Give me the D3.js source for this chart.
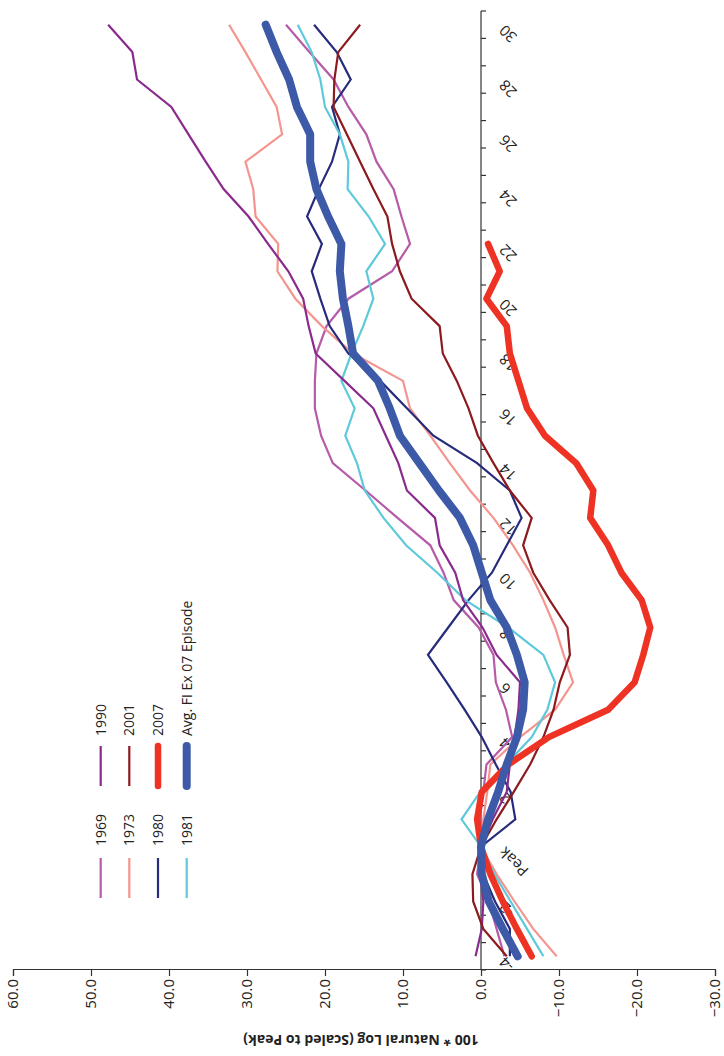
<!DOCTYPE html>
<html><head><meta charset="utf-8">
<script src="https://cdn.jsdelivr.net/npm/d3@7"></script>
<style>
body{margin:0;background:#fff}
svg{display:block}
text{font-family:"Open Sans","Noto Sans",sans-serif;fill:#222}
</style>
</head><body>
<svg id="chart" width="724" height="1056"></svg>
<script>
// ---- data ----
const months = d3.range(-4, 31);           // -4 .. 30 (0 = Peak)
const labelMonths = [-4,-2,0,2,4,6,8,10,12,14,16,18,20,22,24,26,28,30];
const valueTicks = [-30,-20,-10,0,10,20,30,40,50,60];

const s1969 = [-3.0,-2.0,-1.0,0.5,0,0.2,-0.3,-0.7,-4.0,-3.2,-1.9,-1.6,0.3,3.5,4.8,6.5,10.7,14.8,19.0,20.5,21.3,21.3,21.1,19.8,17.0,11.4,9.1,10.2,11.2,13.4,14.7,17.0,18.9,22.0,25.0];
const s1973 = [-9.7,-6.7,-4.3,-2.0,0,-0.3,-0.8,-1.2,-5.0,-9.5,-11.8,-10.6,-9.5,-8.0,-6.3,-4.1,-1.6,1.4,4.0,6.5,9.1,10.0,16.4,20.4,23.8,26.1,26.0,28.9,29.2,30.2,25.5,26.2,28.2,30.2,32.3];
const s1980 = [-3.7,-3.7,-1.8,-0.3,0,-4.4,-3.8,-1.9,-0.1,2.1,4.4,6.8,4.2,1.6,-1.4,-3.3,-5.2,-3.7,0.5,6.1,9.5,12.9,17.0,19.4,20.6,21.7,20.4,22.3,20.8,19.1,18.1,19.1,16.7,18.5,21.4];
const s1981 = [-8.0,-5.9,-3.8,-1.7,0,2.5,0.1,-3.2,-6.5,-8.5,-9.5,-8.0,-3.5,2.0,5.6,9.6,12.5,14.9,15.9,17.4,16.2,17.9,16.6,15.1,13.8,14.7,12.3,14.4,17.1,17.0,18.1,20.0,20.6,21.7,23.5];
const s1990 = [0.7,-0.1,-0.3,0.1,0,-1.5,-3.3,-3.7,-4.3,-4.8,-5.0,-2.0,-0.2,2.3,3.3,5.3,5.9,9.5,10.6,12.2,13.8,17.5,21.2,22.1,22.8,24.7,27.3,29.8,33.0,35.3,37.5,39.7,44.1,44.7,47.8];
const s2001 = [-3.3,-0.3,1.0,1.1,0,-2.0,-4.2,-6.3,-8.0,-9.3,-10.1,-11.4,-11.1,-8.8,-6.7,-5.4,-6.5,-3.7,-1.6,0.4,1.6,3.1,4.9,5.3,8.9,10.4,11.4,12.0,13.8,15.5,17.2,18.9,18.8,18.3,15.5];
const s2007 = [-6.5,-4.6,-2.8,-1.2,0,0.5,-0.1,-3.5,-8.7,-16.3,-19.7,-20.8,-21.7,-20.6,-18.0,-16.3,-14.0,-14.4,-12.2,-8.2,-5.9,-4.8,-3.7,-3.3,-0.7,-2.4,-0.9];
const sAvg  = [-4.7,-2.8,-1.0,-0.1,0,-0.9,-2.2,-3.3,-4.6,-5.4,-5.6,-4.6,-3.3,-1.2,-0.1,1.0,2.7,5.4,7.9,10.4,11.7,13.2,16.4,17.0,17.7,18.1,17.9,19.6,21.1,21.9,21.9,23.6,24.6,26.2,27.6];

const seriesNames = ["1969","1973","1980","1981","1990","2001","2007","Avg. FI Ex 07 Episode"];
const seriesData  = [s1969,s1973,s1980,s1981,s1990,s2001,s2007,sAvg];
const seriesColors = ["#b55ba7","#f5958f","#262b7b","#5ec9da","#8a2a8d","#8c1a1e","#ee3224","#3d5aa8"];
const seriesWidths = [2.2,2.2,2.2,2.2,2.2,2.2,6.5,8];

// ---- layout (drawn in an unrotated frame, then turned -90deg) ----
const W = 1056, H = 724;
const svg = d3.select("#chart");
const g = svg.append("g").attr("transform", `translate(0,${W}) rotate(-90)`);

const x = d3.scaleBand().domain(months).range([86, 1045]).padding(0);
const xc = m => x(m) + x.bandwidth() / 2;
const y = d3.scaleLinear().domain([-30, 60]).range([715, 13]);

// value axis
const ya = g.append("g").attr("transform", `translate(${x.range()[0]},0)`)
  .call(d3.axisLeft(y).tickValues(valueTicks).tickFormat(d3.format(".1f")).tickSize(6).tickSizeOuter(6).tickPadding(3));
ya.selectAll("path,line").attr("stroke", "#333").attr("stroke-width", 1.2);
ya.selectAll("text").style("font-size", "15px").attr("fill", "#222");

// category axis at value 0
const y0 = y(0);
const cat = g.append("g");
cat.append("line").attr("x1", x.range()[0]).attr("x2", x.range()[1])
  .attr("y1", y0).attr("y2", y0).attr("stroke", "#333").attr("stroke-width", 1.2);
const bounds = months.map(m => x(m)).concat([x.range()[1]]);
cat.selectAll("line.tk").data(bounds).join("line").attr("class", "tk")
  .attr("x1", d => d).attr("x2", d => d).attr("y1", y0).attr("y2", y0 + 5)
  .attr("stroke", "#333").attr("stroke-width", 1.2);
cat.selectAll("text.cl").data(labelMonths).join("text").attr("class", "cl")
  .attr("transform", d => `translate(${xc(d) - 3},${y0 + 21}) rotate(-45)`)
  .attr("text-anchor", "end").attr("dy", "0.35em").style("font-size", "15px")
  .text(d => d === 0 ? "Peak" : String(d));

// axis title
g.append("text").attr("transform", `translate(16,${(y.range()[0] + y.range()[1]) / 2 - 3}) rotate(-90)`)
  .attr("text-anchor", "middle").attr("dy", "0.35em")
  .style("font-size", "14px").style("font-weight", "bold")
  .text("100 * Natural Log (Scaled to Peak)");

// lines
const line = d3.line().x((d, i) => xc(months[i])).y(d => y(d));
seriesData.forEach((data, k) => {
  g.append("path").datum(data).attr("d", line).attr("fill", "none")
    .attr("stroke", seriesColors[k]).attr("stroke-width", seriesWidths[k])
    .attr("stroke-linejoin", k >= 6 ? "round" : "miter")
    .attr("stroke-linecap", k >= 6 ? "round" : "butt");
});

// legend (two columns, four rows)
const legCols = [{x0: 158, x1: 198, tx: 210}, {x0: 270, x1: 310, tx: 320}];
const legRows = [100.7, 129.3, 158, 186.7];
const legOrder = [[0,4],[1,5],[2,6],[3,7]];
legOrder.forEach((pair, r) => {
  pair.forEach((k, c) => {
    const col = legCols[c], yy = legRows[r];
    g.append("line").attr("x1", col.x0).attr("x2", col.x1).attr("y1", yy).attr("y2", yy)
      .attr("stroke", seriesColors[k]).attr("stroke-width", seriesWidths[k])
      .attr("stroke-linecap", k >= 6 ? "round" : "butt");
    g.append("text").attr("x", col.tx).attr("y", yy).attr("dy", "0.35em")
      .style("font-size", "14px").text(seriesNames[k]);
  });
});
</script>
</body></html>
